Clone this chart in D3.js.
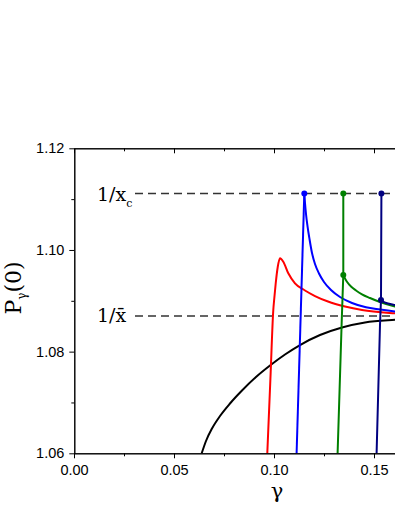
<!DOCTYPE html>
<head>
<meta charset="utf-8">
<style>
body { margin: 0; background: #fff; }
.axis path, .axis line { stroke: #000; stroke-width: 1; }
.curve { fill: none; stroke-width: 2; }
.ref { stroke: #333; stroke-width: 1.6; stroke-dasharray: 8 5; }
.math { font-family: "DejaVu Serif", serif; fill: #000; }
</style>
<title>P_gamma(0) versus gamma</title>
</head>
<body>
<svg width="395" height="511"></svg>
<script src="https://d3js.org/d3.v7.min.js"></script>
<script>
// values
var gammaBlack = [0.06385, 0.0660, 0.0690, 0.0730, 0.0780, 0.0840, 0.0910, 0.0980, 0.1055, 0.1130, 0.1230, 0.1340, 0.1455, 0.1605, 0.1755]
var pBlack     = [1.0600, 1.06242, 1.06488, 1.06734, 1.06980, 1.07235, 1.07501, 1.07727, 1.07944, 1.08130, 1.08327, 1.08475, 1.08573, 1.08626, 1.0866]

var gammaRed = [0.09665, 0.0982, 0.09965, 0.10015, 0.10085, 0.10185, 0.1030, 0.10465, 0.10715, 0.1105, 0.1155, 0.1205, 0.1270, 0.1355, 0.1440, 0.1605, 0.1755]
var pRed     = [1.0600, 1.0746, 1.0882, 1.0905, 1.0934, 1.0966, 1.09836, 1.09769, 1.09541, 1.09344, 1.09203, 1.09094, 1.08986, 1.08888, 1.08819, 1.08754, 1.08721]

var gammaBlueRise = [0.1113, 0.11515]
var pBlueRise     = [1.0600, 1.1111]
var gammaBlue = [0.11515, 0.1155, 0.1160, 0.11675, 0.11775, 0.1190, 0.1205, 0.1225, 0.1250, 0.1285, 0.1330, 0.1390, 0.1460, 0.1530, 0.1605, 0.1755]
var pBlue     = [1.1111, 1.10924, 1.10708, 1.10471, 1.10216, 1.09940, 1.09724, 1.09537, 1.09370, 1.09212, 1.09075, 1.08957, 1.08872, 1.08829, 1.08790, 1.08740]

var gammaGreenRise = [0.1318, 0.1338, 0.13465, 0.13465]
var pGreenRise     = [1.0600, 1.0853, 1.0951, 1.1111]
var gammaGreen = [0.13465, 0.1355, 0.13675, 0.1385, 0.1410, 0.1440, 0.1480, 0.1530, 0.1605, 0.1755]
var pGreen     = [1.09508, 1.09439, 1.0936, 1.09281, 1.09203, 1.09128, 1.09055, 1.08976, 1.08888, 1.08799]

var gammaNavyRise = [0.1513, 0.1530, 0.1535, 0.1537]
var pNavyRise     = [1.0600, 1.0853, 1.0902, 1.1111]
var gammaNavy = [0.1535, 0.1550, 0.1570, 0.1605, 0.1755]
var pNavy     = [1.09016, 1.08976, 1.08947, 1.08917, 1.08858]

var dotGamma = [0.11515, 0.13465, 0.13465, 0.1537, 0.1535]
var dotP     = [1.1111, 1.1111, 1.09508, 1.1111, 1.09016]
var dotColor = ["#0000ff", "#008000", "#008000", "#000080", "#000080"]

var refP = [1.1111, 1.0870]

var xTicks = [0, 0.05, 0.10, 0.15]
var xTickLabels = ["0.00", "0.05", "0.10", "0.15"]
var xMinor = [0.025, 0.075, 0.125]
var yTicks = [1.06, 1.08, 1.10, 1.12]
var yTickLabels = ["1.06", "1.08", "1.10", "1.12"]
var yMinor = [1.07, 1.09, 1.11]

var svg = d3.select("svg")

var x = d3.scaleLinear().domain([0, 0.17]).range([74, 414]),
    y = d3.scaleLinear().domain([1.06, 1.12]).range([453.3, 148.3])

function pts(gs, ps) { return gs.map((g, i) => [g, ps[i]]) }

var smooth = d3.line().x(d => x(d[0])).y(d => y(d[1])).curve(d3.curveMonotoneX)
var straight = d3.line().x(d => x(d[0])).y(d => y(d[1]))

// dashed reference levels
svg.selectAll(".ref")
  .data(refP)
  .enter().append("line")
    .attr("class", "ref")
    .attr("x1", 135).attr("x2", 400)
    .attr("y1", d => y(d)).attr("y2", d => y(d))

var curves = [
  {d: pts(gammaBlack, pBlack), c: "#000", l: smooth},
  {d: pts(gammaRed, pRed), c: "#ff0000", l: smooth},
  {d: pts(gammaBlueRise, pBlueRise), c: "#0000ff", l: straight},
  {d: pts(gammaBlue, pBlue), c: "#0000ff", l: smooth},
  {d: pts(gammaGreenRise, pGreenRise), c: "#008000", l: straight},
  {d: pts(gammaGreen, pGreen), c: "#008000", l: smooth},
  {d: pts(gammaNavyRise, pNavyRise), c: "#000080", l: straight},
  {d: pts(gammaNavy, pNavy), c: "#000080", l: smooth}
]

svg.selectAll(".curve")
  .data(curves)
  .enter().append("path")
    .attr("class", "curve")
    .attr("stroke", d => d.c)
    .attr("d", d => d.l(d.d))

svg.selectAll(".dot")
  .data(dotGamma)
  .enter().append("circle")
    .attr("class", "dot")
    .attr("cx", d => x(d))
    .attr("cy", (d, i) => y(dotP[i]))
    .attr("r", 3)
    .attr("fill", (d, i) => dotColor[i])

// axes
function styleAxis(g) {
  g.attr("font-size", 14.5).attr("font-family", "'Liberation Sans', Arial, sans-serif")
  g.selectAll("text").attr("fill", "#000")
}
svg.append("g")
    .attr("class", "axis")
    .attr("transform", "translate(0,453.3)")
    .call(d3.axisBottom(x).tickValues(xTicks).tickFormat((d, i) => xTickLabels[i]).tickSize(5).tickSizeOuter(0).tickPadding(6))
    .call(styleAxis)
svg.append("g")
    .attr("class", "axis")
    .attr("transform", "translate(0,453.3)")
    .call(d3.axisBottom(x).tickValues(xMinor).tickFormat("").tickSize(3).tickSizeOuter(0))
svg.append("g")
    .attr("class", "axis")
    .attr("transform", "translate(0,148.3)")
    .call(d3.axisTop(x).tickValues(xTicks).tickFormat("").tickSize(-5).tickSizeOuter(0))
svg.append("g")
    .attr("class", "axis")
    .attr("transform", "translate(0,148.3)")
    .call(d3.axisTop(x).tickValues(xMinor).tickFormat("").tickSize(-3).tickSizeOuter(0))
svg.append("g")
    .attr("class", "axis")
    .attr("transform", "translate(74.3,0)")
    .call(d3.axisLeft(y).tickValues(yTicks).tickFormat((d, i) => yTickLabels[i]).tickSize(5).tickSizeOuter(0).tickPadding(5))
    .call(styleAxis)
svg.append("g")
    .attr("class", "axis")
    .attr("transform", "translate(74.3,0)")
    .call(d3.axisLeft(y).tickValues(yMinor).tickFormat("").tickSize(3).tickSizeOuter(0))

// level labels
var lc = svg.append("text").attr("class", "math").attr("x", 97).attr("y", y(refP[0]) + 7).attr("font-size", 19)
lc.append("tspan").text("1/x")
lc.append("tspan").attr("font-size", 11).attr("dy", 6).text("c")

svg.append("text").attr("class", "math").attr("x", 97).attr("y", y(refP[1]) + 6).attr("font-size", 19)
    .text("1/x\u0304")

// axis titles
svg.append("text").attr("class", "math")
    .attr("x", 277).attr("y", 498)
    .attr("text-anchor", "middle")
    .attr("font-size", 21)
    .text("γ")

var yt = svg.append("text").attr("class", "math")
    .attr("transform", "translate(21,288) rotate(-90)")
    .attr("text-anchor", "middle")
    .attr("font-size", 22)
yt.append("tspan").text("P")
yt.append("tspan").attr("font-size", 12).attr("dy", 5).text("γ")
yt.append("tspan").attr("dy", -5).text("(0)")
</script>
</body>
